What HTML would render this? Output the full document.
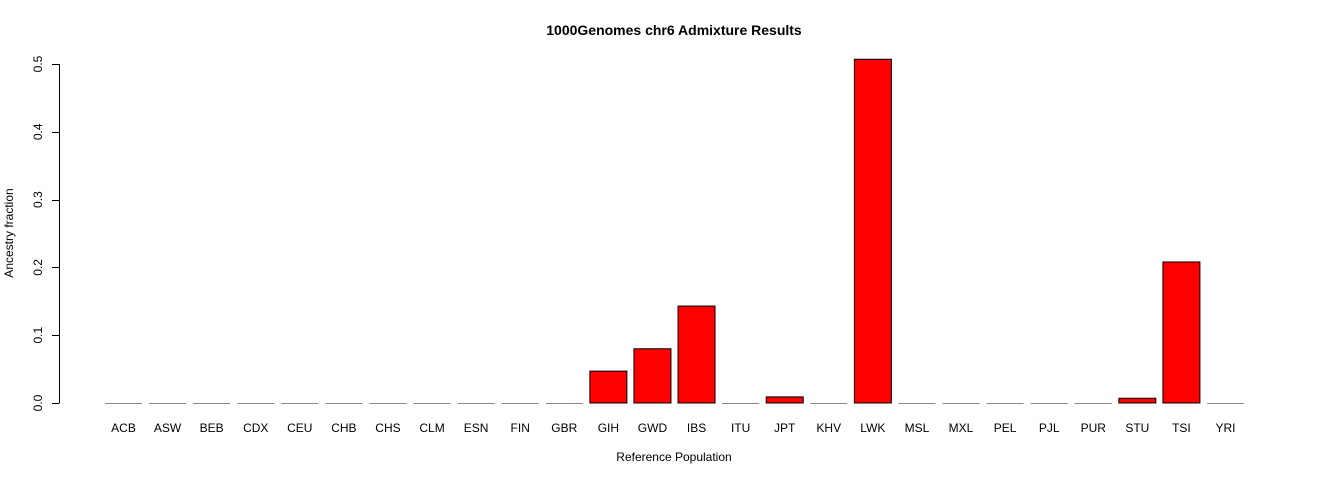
<!DOCTYPE html>
<html><head><meta charset="utf-8"><style>
body{margin:0;background:#fff;}
svg text{font-family:"Liberation Sans",Arial,sans-serif;}
</style></head><body>
<svg id="chart" width="1320" height="480" xmlns="http://www.w3.org/2000/svg">
<text x="674" y="35" text-anchor="middle" font-size="14" font-weight="bold">1000Genomes chr6 Admixture Results</text>
<text x="674" y="461" text-anchor="middle" font-size="12">Reference Population</text>
<text transform="translate(13,233) rotate(-90)" text-anchor="middle" font-size="12">Ancestry fraction</text>
<g id="bars"></g><g id="yaxis"></g><g id="xlabels"></g>
</svg>
<script>
const categories=["ACB","ASW","BEB","CDX","CEU","CHB","CHS","CLM","ESN","FIN","GBR","GIH","GWD","IBS","ITU","JPT","KHV","LWK","MSL","MXL","PEL","PJL","PUR","STU","TSI","YRI"];
const values=[0,0,0,0,0,0,0,0,0,0,0,0.047,0.080,0.143,0,0.009,0,0.507,0,0,0,0,0,0.007,0.208,0];
const yTicks=[0,0.1,0.2,0.3,0.4,0.5];
const yTickLabels=["0.0","0.1","0.2","0.3","0.4","0.5"];
const NS="http://www.w3.org/2000/svg";
function y(v){return 403-v*678;}
function xc(i){return 123.5+i*44.08;}
const bw=37;
const bars=document.getElementById('bars'),xl=document.getElementById('xlabels'),ya=document.getElementById('yaxis');
categories.forEach((c,i)=>{
  const v=values[i];
  if(v>0){
    const r=document.createElementNS(NS,'rect');
    r.setAttribute('x',xc(i)-bw/2);r.setAttribute('y',y(v));
    r.setAttribute('width',bw);r.setAttribute('height',403-y(v));
    r.setAttribute('fill','#ff0000');r.setAttribute('stroke','#000');r.setAttribute('stroke-width','1');
    
    
    bars.appendChild(r);
  } else {
    const l=document.createElementNS(NS,'line');
    l.setAttribute('x1',xc(i)-bw/2);l.setAttribute('x2',xc(i)+bw/2);
    l.setAttribute('y1',403.5);l.setAttribute('y2',403.5);
    l.setAttribute('stroke','#888');l.setAttribute('stroke-width','1');
    
    
    bars.appendChild(l);
  }
  const t=document.createElementNS(NS,'text');
  t.setAttribute('x',xc(i));t.setAttribute('y',432);t.setAttribute('text-anchor','middle');t.setAttribute('font-size','12');
  t.textContent=c;
  
  
  xl.appendChild(t);
});
const ax=document.createElementNS(NS,'line');
ax.setAttribute('x1',59.5);ax.setAttribute('x2',59.5);ax.setAttribute('y1',y(0));ax.setAttribute('y2',y(0.5));ax.setAttribute('stroke','#000');


ya.appendChild(ax);
yTicks.forEach((v,i)=>{
  const tk=document.createElementNS(NS,'line');
  tk.setAttribute('x1',52);tk.setAttribute('x2',59.5);tk.setAttribute('y1',Math.round(y(v))+0.5);tk.setAttribute('y2',Math.round(y(v))+0.5);tk.setAttribute('stroke','#000');
  
  
  ya.appendChild(tk);
  const t=document.createElementNS(NS,'text');
  t.setAttribute('transform','translate(42,'+y(v)+') rotate(-90)');t.setAttribute('text-anchor','middle');t.setAttribute('font-size','12');
  t.textContent=yTickLabels[i];
  
  
  ya.appendChild(t);
});
</script>
</body></html>
